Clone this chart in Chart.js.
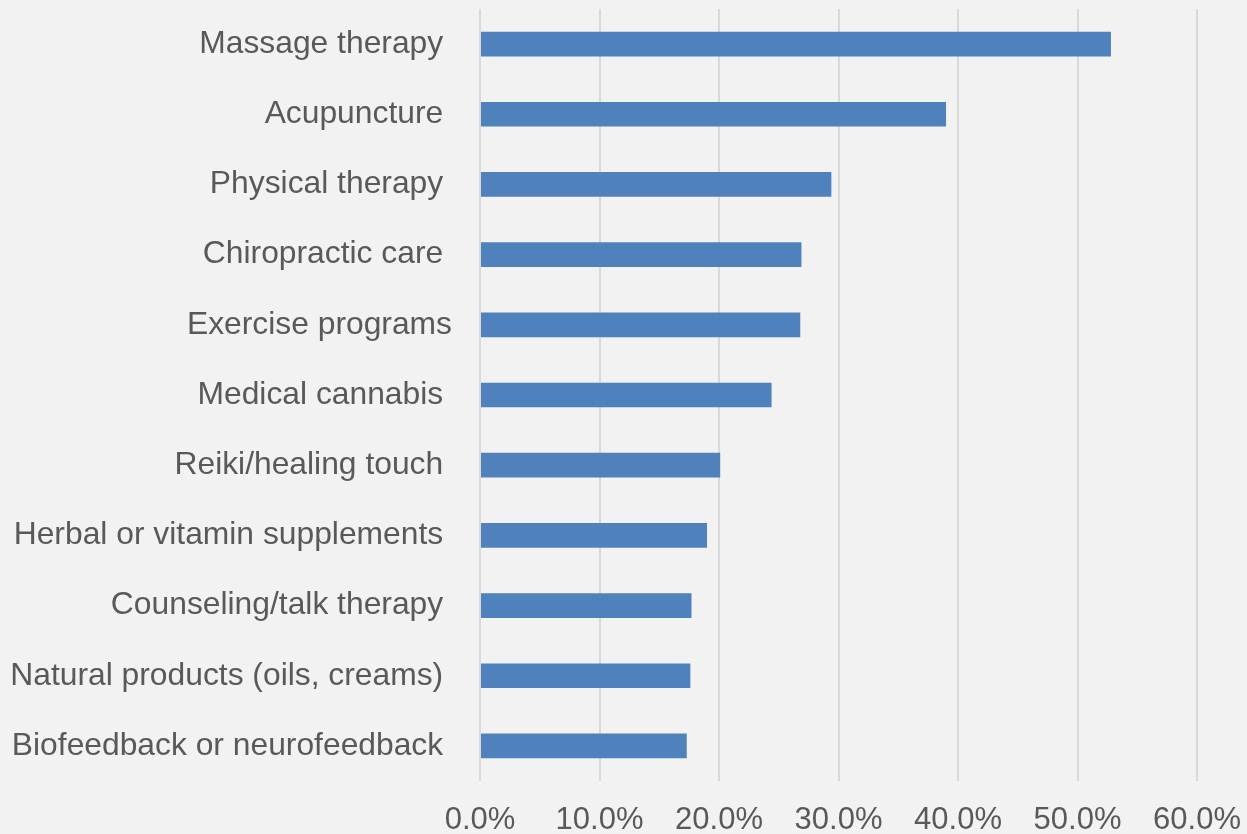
<!DOCTYPE html>
<html>
<head>
<meta charset="utf-8">
<title>Therapies</title>
<script src="https://cdn.jsdelivr.net/npm/chart.js@4"></script>
<style>
  html, body { margin: 0; padding: 0; background: #f2f2f2; }
  #wrap { width: 1247px; height: 834px; }
  canvas { display: block; background: #f2f2f2; }
</style>
</head>
<body>
<div id="wrap"><canvas id="chart" width="1247" height="834"></canvas></div>
<script>
// Categories as labelled on the vertical axis (top to bottom)
const categories = [
  'Massage therapy ',
  'Acupuncture ',
  'Physical therapy ',
  'Chiropractic care ',
  'Exercise programs',
  'Medical cannabis ',
  'Reiki/healing touch ',
  'Herbal or vitamin supplements ',
  'Counseling/talk therapy ',
  'Natural products (oils, creams) ',
  'Biofeedback or neurofeedback '
];

// Share of respondents, percent
const shares = [52.8, 39.0, 29.4, 26.9, 26.8, 24.4, 20.1, 19.0, 17.7, 17.6, 17.3];

// Horizontal axis ticks, percent
const xTicks = [0, 10, 20, 30, 40, 50, 60];

const textColor = '#595959';
const family = "'Liberation Sans', Arial, sans-serif";

new Chart(document.getElementById('chart'), {
  type: 'bar',
  data: {
    labels: categories,
    datasets: [{
      data: shares,
      backgroundColor: '#4f81bd',
      borderWidth: 0,
      barPercentage: 0.352,
      categoryPercentage: 1.0
    }]
  },
  options: {
    indexAxis: 'y',
    responsive: false,
    devicePixelRatio: 1,
    animation: false,
    layout: { padding: { top: 9, right: 50, left: 0, bottom: 0 } },
    plugins: {
      legend: { display: false },
      tooltip: { enabled: false },
      title: { display: false }
    },
    scales: {
      x: {
        min: xTicks[0],
        max: xTicks[xTicks.length - 1],
        afterBuildTicks(scale) {
          scale.ticks = xTicks.map(v => ({ value: v }));
        },
        afterFit(scale) {
          scale.height = 53;
          scale.paddingLeft = 0;
          scale.paddingRight = 0;
        },
        grid: { color: '#d9d9d9', lineWidth: 2, drawTicks: false },
        border: { display: false },
        ticks: {
          color: textColor,
          font: { family: family, size: 31 },
          padding: 21,
          maxRotation: 0,
          autoSkip: false,
          callback: v => v.toFixed(1) + '%'
        }
      },
      y: {
        afterFit(scale) {
          scale.width = 480;
          scale.paddingTop = 0;
          scale.paddingBottom = 0;
        },
        grid: { display: false, drawTicks: false },
        border: { display: false },
        ticks: {
          color: textColor,
          font: { family: family, size: 31.8 },
          padding: 28,
          autoSkip: false
        }
      }
    }
  }
});
</script>
</body>
</html>
